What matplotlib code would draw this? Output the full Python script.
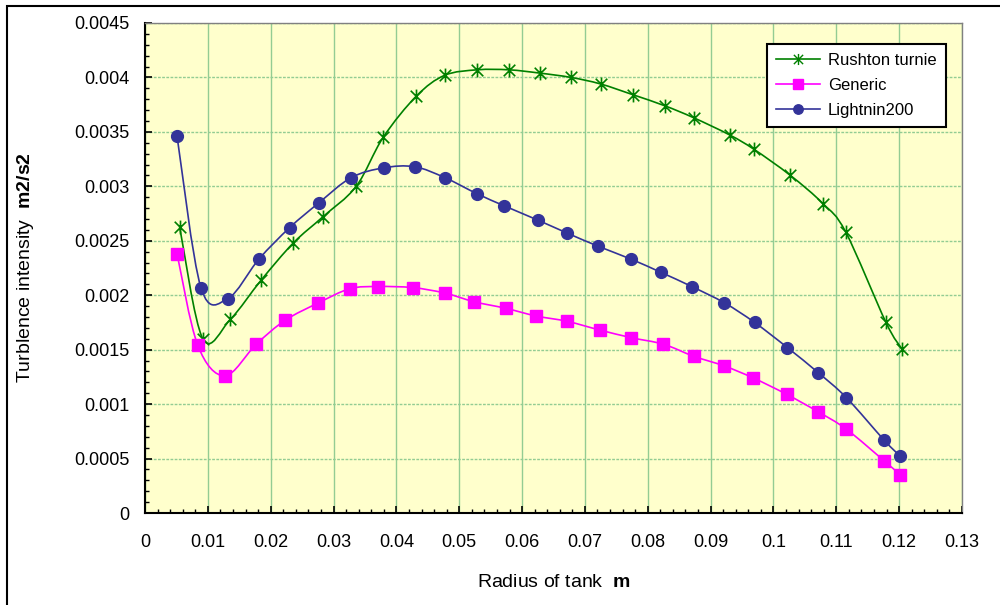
import matplotlib
matplotlib.use('Agg')
import matplotlib.pyplot as plt
from matplotlib.path import Path
from matplotlib.patches import PathPatch, Rectangle
from matplotlib.lines import Line2D
from matplotlib.ticker import MultipleLocator
import numpy as np

plt.rcParams['font.family'] = ['Liberation Sans', 'DejaVu Sans']
plt.rcParams['mathtext.fontset'] = 'custom'
plt.rcParams['mathtext.rm'] = 'Liberation Sans'
plt.rcParams['mathtext.bf'] = 'Liberation Sans:bold'

# Rushton turnie
rx = [0.0055, 0.0092, 0.0136, 0.0185, 0.0236, 0.0283, 0.0336, 0.0379, 0.0432, 0.0477, 0.0529, 0.0579, 0.0628,
      0.0678, 0.0725, 0.0777, 0.0827, 0.0873, 0.0931, 0.0969, 0.1027, 0.1079, 0.1115, 0.1179, 0.1204]
ry = [0.00263, 0.00160, 0.00178, 0.00214, 0.00248, 0.00272, 0.00300, 0.00345, 0.00383, 0.00402, 0.00407, 0.00407,
      0.00404, 0.00400, 0.00394, 0.00384, 0.00374, 0.00363, 0.00347, 0.00334, 0.00310, 0.00284, 0.00258, 0.00175, 0.00151]

# Generic
gx = [0.0051, 0.0084, 0.0127, 0.0177, 0.0223, 0.0276, 0.0326, 0.0371, 0.0426, 0.0477, 0.0524, 0.0574, 0.0622,
      0.0672, 0.0724, 0.0774, 0.0825, 0.0873, 0.0922, 0.0968, 0.1021, 0.1071, 0.1116, 0.1176, 0.1202]
gy = [0.00238, 0.00154, 0.00126, 0.00155, 0.00177, 0.00193, 0.00206, 0.00208, 0.00207, 0.00202, 0.00194, 0.00188,
      0.00181, 0.00176, 0.00168, 0.00161, 0.00155, 0.00144, 0.00135, 0.00124, 0.00109, 0.00093, 0.00077, 0.00048, 0.00035]

# Lightnin200
lx = [0.0051, 0.0089, 0.0132, 0.0181, 0.0230, 0.0277, 0.0328, 0.0380, 0.0429, 0.0477, 0.0529, 0.0572, 0.0625,
      0.0672, 0.0721, 0.0774, 0.0821, 0.0870, 0.0922, 0.0970, 0.1022, 0.1071, 0.1116, 0.1176, 0.1202]
ly = [0.00346, 0.00207, 0.00197, 0.00233, 0.00262, 0.00285, 0.00308, 0.00317, 0.00318, 0.00308, 0.00293, 0.00282,
      0.00269, 0.00257, 0.00245, 0.00233, 0.00221, 0.00208, 0.00193, 0.00175, 0.00152, 0.00129, 0.00106, 0.00067, 0.00052]

labels = ['Rushton turnie', 'Generic', 'Lightnin200']
colors = ['#008000', '#ff00ff', '#333399']


def smooth_path(x, y):
    # excel-like smoothed line: bezier segments with catmull-rom control points
    p = np.column_stack([x, y])
    verts = [p[0]]
    codes = [Path.MOVETO]
    n = len(p)
    for i in range(n - 1):
        p0 = p[i - 1] if i > 0 else p[i]
        p3 = p[i + 2] if i + 2 < n else p[i + 1]
        c1 = p[i] + (p[i + 1] - p0) / 6.0
        c2 = p[i + 1] - (p3 - p[i]) / 6.0
        verts += [c1, c2, p[i + 1]]
        codes += [Path.CURVE4] * 3
    return Path(verts, codes)


star = Path([(-1, -1), (1, 1), (-1, 1), (1, -1), (0, -1.2), (0, 1.2)],
            [Path.MOVETO, Path.LINETO, Path.MOVETO, Path.LINETO, Path.MOVETO, Path.LINETO])

fig = plt.figure(figsize=(10, 6.05), dpi=100)
ax = fig.add_axes([0.145, 0.152, 0.817, 0.810])
ax.set_facecolor('#ffffcc')

series = [(rx, ry, star, 10), (gx, gy, 's', 8.5), (lx, ly, 'o', 8.5)]
handles = []
for (x, y, m, ms), c, lab in zip(series, colors, labels):
    ax.add_patch(PathPatch(smooth_path(x, y), facecolor='none', edgecolor=c, lw=1.2, zorder=3))
    if m is star:
        ax.plot(x, y, ls='none', marker=m, ms=ms, mec=c, mew=1.2, zorder=4)
    else:
        ax.plot(x, y, ls='none', marker=m, ms=ms, mfc=c, mec=c, zorder=4)
    handles.append(Line2D([], [], color=c, lw=1.2, marker=m, ms=ms * 0.8, mfc=c, mec=c))

ax.set_xlim(0, 0.13)
ax.set_ylim(0, 0.0045)
ax.xaxis.set_major_locator(MultipleLocator(0.01))
ax.xaxis.set_minor_locator(MultipleLocator(0.002))
ax.yaxis.set_major_locator(MultipleLocator(0.0005))
ax.yaxis.set_minor_locator(MultipleLocator(0.0001))
ax.xaxis.set_major_formatter(plt.FuncFormatter(lambda v, p: ('%.2f' % v).rstrip('0').rstrip('.') if v else '0'))
ax.yaxis.set_major_formatter(plt.FuncFormatter(lambda v, p: ('%.4f' % v).rstrip('0').rstrip('.') if v else '0'))

ax.grid(True, which='major', axis='x', color='#93cc93', lw=1.0, zorder=1)
ax.grid(True, which='major', axis='y', color='#93cc93', lw=1.0, ls=(0, (2, 1)), zorder=1)
ax.set_axisbelow(True)

ax.tick_params(which='both', direction='in', top=False, right=False, labelsize=13, colors='black')
ax.tick_params(which='major', length=5, width=1.2)
ax.tick_params(which='minor', length=3, width=1.0)
ax.tick_params(axis='x', which='major', pad=15)
ax.tick_params(axis='y', which='major', pad=11)

for s in ['left', 'bottom']:
    ax.spines[s].set_color('black')
    ax.spines[s].set_linewidth(1.5)
for s in ['top', 'right']:
    ax.spines[s].set_color('#808080')
    ax.spines[s].set_linewidth(1.0)

ax.set_xlabel(r'Radius of tank  $\mathbf{m}$', fontsize=14)
ax.xaxis.set_label_coords(0.5, -0.125)
ax.set_ylabel(r'Turblence intensity  $\mathbf{m2/s2}$', fontsize=14)
ax.yaxis.set_label_coords(-0.133, 0.5)

leg = ax.legend(handles, labels, loc='upper right', bbox_to_anchor=(0.980, 0.957), borderaxespad=0,
                fontsize=12, fancybox=False, framealpha=1, edgecolor='black', handlelength=2.6,
                handletextpad=0.5, labelspacing=0.6, borderpad=0.55)
leg.get_frame().set_linewidth(1.5)

fig.patches.append(Rectangle((0.007, -1), 5, 1.990, transform=fig.transFigure, fill=False,
                             edgecolor='black', lw=1.5, clip_on=False))

fig.savefig('out.png', dpi=100)
